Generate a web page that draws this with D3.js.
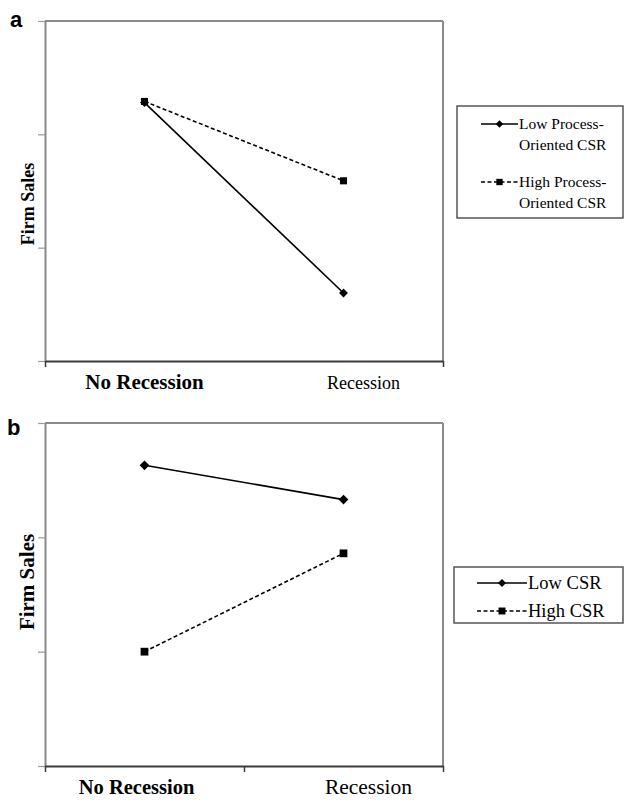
<!DOCTYPE html>
<html><head><meta charset="utf-8">
<script src="https://cdn.jsdelivr.net/npm/d3@7/dist/d3.min.js"></script>
<style>body{margin:0;background:#fff}svg{display:block}</style>
</head><body>
<svg id="c" width="625" height="800"></svg>
<script>
const categories = ["No Recession", "Recession"];
const seriesA = ["Low Process-Oriented CSR", "High Process-Oriented CSR"];
const lowProcessCSR = [2.28, 0.60];
const highProcessCSR = [2.29, 1.59];
const seriesB = ["Low CSR", "High CSR"];
const lowCSR = [2.63, 2.33];
const highCSR = [1.00, 1.86];
const yTicks = [0, 1, 2, 3];

const svg = d3.select("#c");
const serif = "'Times New Roman','Liberation Serif',serif";
const sans = "Arial,'Liberation Sans',sans-serif";

function panel(opt) {
  const g = svg.append("g");
  const x = d3.scalePoint().domain(categories).range([opt.left, opt.right]).padding(0.5);
  const xb = d3.scaleLinear().domain([0, 2]).range([opt.left, opt.right]);
  const y = d3.scaleLinear().domain([0, 3]).range([opt.bottom, opt.top]);

  g.append("line").attr("x1", opt.left).attr("x2", opt.right).attr("y1", opt.top).attr("y2", opt.top)
    .attr("stroke", "#8a8a8a").attr("stroke-width", 2);
  g.append("line").attr("x1", opt.right).attr("x2", opt.right).attr("y1", opt.top).attr("y2", opt.bottom)
    .attr("stroke", "#8a8a8a").attr("stroke-width", 2);

  const ya = g.append("g").attr("transform", `translate(${opt.left},0)`)
    .call(d3.axisLeft(y).tickValues(yTicks).tickFormat("").tickSizeInner(7).tickSizeOuter(0));
  ya.select(".domain").attr("stroke", "#8a8a8a").attr("stroke-width", 2);
  ya.selectAll(".tick line").attr("stroke", "#9a9a9a").attr("stroke-width", 1.2);

  const xa = g.append("g").attr("transform", `translate(0,${opt.bottom})`)
    .call(d3.axisBottom(xb).tickValues(opt.xTicks).tickFormat("").tickSizeInner(6).tickSizeOuter(0));
  xa.select(".domain").attr("stroke", "#3a3a3a").attr("stroke-width", 2);
  xa.selectAll(".tick line").attr("stroke", "#3a3a3a").attr("stroke-width", 1.5);

  g.append("text").attr("x", x(categories[0]) + opt.lab0dx).attr("y", opt.labY)
    .attr("text-anchor", "middle").attr("font-family", serif).attr("font-weight", "bold")
    .attr("font-size", opt.lab0Size).text(categories[0]);
  g.append("text").attr("x", x(categories[1]) + opt.lab1dx).attr("y", opt.labY)
    .attr("text-anchor", "middle").attr("font-family", serif)
    .attr("font-size", opt.lab1Size).text(categories[1]);

  g.append("text").attr("transform", `translate(${opt.ytX},${opt.ytY}) rotate(-90)`)
    .attr("text-anchor", "middle").attr("font-family", serif).attr("font-weight", "bold")
    .attr("font-size", opt.ytSize).text("Firm Sales");

  g.append("text").attr("x", opt.letterX).attr("y", opt.letterY).attr("font-family", sans)
    .attr("font-weight", "bold").attr("font-size", 22).text(opt.letter);

  const line = d3.line().x((d, i) => x(categories[i])).y(d => y(d));
  g.append("path").datum(opt.solid).attr("d", line).attr("fill", "none")
    .attr("stroke", "#000").attr("stroke-width", 1.6);
  g.append("path").datum(opt.dashed).attr("d", line).attr("fill", "none")
    .attr("stroke", "#000").attr("stroke-width", 1.6).attr("stroke-dasharray", "4,2.5");
  const dia = d3.symbol().type(d3.symbolDiamond2).size(opt.diaSize);
  const sq = d3.symbol().type(d3.symbolSquare).size(opt.sqSize);
  g.selectAll(".d").data(opt.solid).join("path")
    .attr("transform", (d, i) => `translate(${x(categories[i])},${y(d)})`).attr("d", dia).attr("fill", "#000");
  g.selectAll(".s").data(opt.dashed).join("path")
    .attr("transform", (d, i) => `translate(${x(categories[i])},${y(d)})`).attr("d", sq).attr("fill", "#000");

  const L = opt.legend;
  g.append("rect").attr("x", L.x).attr("y", L.y).attr("width", L.w).attr("height", L.h)
    .attr("fill", "#fff").attr("stroke", "#555").attr("stroke-width", 1.5);
  L.items.forEach((it, k) => {
    const cy = it.y;
    g.append("line").attr("x1", L.lx1).attr("x2", L.lx2).attr("y1", cy).attr("y2", cy)
      .attr("stroke", "#000").attr("stroke-width", 1.6)
      .attr("stroke-dasharray", k === 1 ? "4,2.5" : null);
    g.append("path").attr("transform", `translate(${(L.lx1 + L.lx2) / 2},${cy})`)
      .attr("d", k === 1 ? d3.symbol().type(d3.symbolSquare).size(opt.sqSize * 0.8)()
                         : d3.symbol().type(d3.symbolDiamond2).size(opt.diaSize * 0.7)())
      .attr("fill", "#000");
    it.lines.forEach((t, j) => {
      g.append("text").attr("x", L.tx).attr("y", cy + j * L.lh)
        .attr("dy", "0.35em").attr("font-family", serif).attr("font-size", L.size).text(t);
    });
  });
}

panel({
  left: 45, right: 443, top: 21, bottom: 361, xTicks: [0, 2],
  solid: lowProcessCSR, dashed: highProcessCSR,
  labY: 389, lab0dx: 0, lab1dx: 20, lab0Size: 21, lab1Size: 18,
  ytX: 34, ytY: 204, ytSize: 18,
  letter: "a", letterX: 10, letterY: 27,
  diaSize: 50, sqSize: 50,
  legend: { x: 457, y: 106, w: 166, h: 112, lx1: 481, lx2: 518, tx: 519, lh: 21, size: 15.5,
    items: [{ y: 124, lines: ["Low Process-", "Oriented CSR"] }, { y: 182, lines: ["High Process-", "Oriented CSR"] }] }
});

panel({
  left: 45, right: 443, top: 423, bottom: 766, xTicks: [0, 1, 2],
  solid: lowCSR, dashed: highCSR,
  labY: 794, lab0dx: -8, lab1dx: 25, lab0Size: 20.5, lab1Size: 21.5,
  ytX: 34, ytY: 582, ytSize: 21,
  letter: "b", letterX: 7, letterY: 435,
  diaSize: 60, sqSize: 60,
  legend: { x: 454, y: 567, w: 169, h: 56, lx1: 477, lx2: 527, tx: 528, lh: 0, size: 18.5,
    items: [{ y: 583, lines: ["Low CSR"] }, { y: 611, lines: ["High CSR"] }] }
});
</script>
</body></html>
